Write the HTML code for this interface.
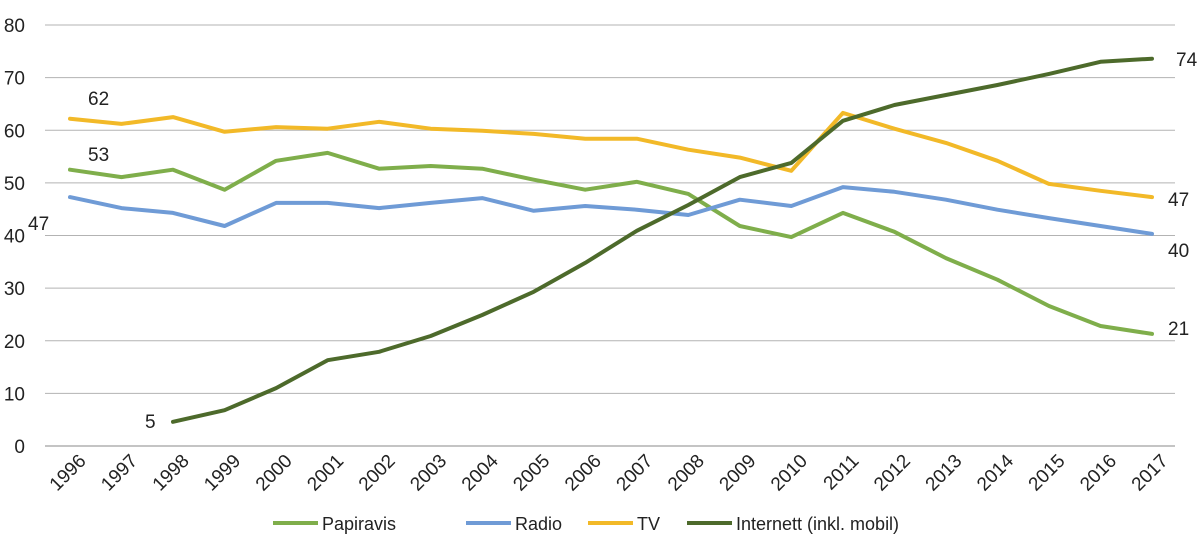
<!DOCTYPE html>
<html><head><meta charset="utf-8"><style>
html,body{margin:0;padding:0;background:#fff}
svg{display:block;font-family:"Liberation Sans",Arial,sans-serif}
</style></head><body>
<svg id="chart" width="1200" height="555" viewBox="0 0 1200 555">
<g id="grid"></g><g id="series"></g><g id="labels"></g><g id="legend"></g>
</svg>
<script>
const years=[1996,1997,1998,1999,2000,2001,2002,2003,2004,2005,2006,2007,2008,2009,2010,2011,2012,2013,2014,2015,2016,2017];
const papiravis=[52.5,51.1,52.5,48.7,54.2,55.7,52.7,53.2,52.7,50.6,48.7,50.2,47.9,41.8,39.7,44.3,40.7,35.7,31.6,26.6,22.8,21.3];
const radio=[47.3,45.2,44.3,41.8,46.2,46.2,45.2,46.2,47.1,44.7,45.6,44.9,43.9,46.8,45.6,49.2,48.3,46.8,44.9,43.3,41.8,40.3];
const tv=[62.2,61.2,62.5,59.7,60.6,60.3,61.6,60.3,59.9,59.3,58.4,58.4,56.3,54.8,52.3,63.3,60.3,57.6,54.2,49.8,48.5,47.3];
const internett=[null,null,4.6,6.8,11.0,16.3,17.9,20.9,24.9,29.3,34.8,40.9,45.8,51.1,53.8,61.8,64.8,66.7,68.6,70.7,73.0,73.6];
const yTicks=[0,10,20,30,40,50,60,70,80];
const NS="http://www.w3.org/2000/svg";
const x=i=>70+i*(1082/21);
const y=v=>446-v*(421/80);
function mk(t,a,p){const e=document.createElementNS(NS,t);for(const k in a)e.setAttribute(k,a[k]);p.appendChild(e);return e;}
const grid=document.getElementById('grid');
yTicks.forEach(t=>{
  const l=mk('line',{x1:45,x2:1175,y1:y(t),y2:y(t),stroke:t===0?'#888':'#b3b3b3','stroke-width':1},grid);
  
  
  const tx=mk('text',{x:25,y:y(t)+7,'text-anchor':'end','font-size':19,fill:'#222'},grid);tx.textContent=t;
  
  
});
years.forEach((yr,i)=>{
  const tx=mk('text',{x:x(i)+17,y:462,'text-anchor':'end','font-size':19,fill:'#222',transform:`rotate(-45 ${x(i)+17} 462)`},grid);
  tx.textContent=yr;
  
  
});
const ser=[['papiravis',papiravis,'#7fae4b','Papiravis'],['radio',radio,'#6f9bd6','Radio'],['tv',tv,'#f2b928','TV'],['internett',internett,'#4d6a2b','Internett (inkl. mobil)']];
const sg=document.getElementById('series');
ser.forEach(([n,d,c])=>{
  let pts=[];d.forEach((v,i)=>{if(v!=null)pts.push(x(i).toFixed(1)+','+y(v).toFixed(1));});
  const p=mk('polyline',{points:pts.join(' '),fill:'none',stroke:c,'stroke-width':4,'stroke-linejoin':'round','stroke-linecap':'round'},sg);
  
  
});
const lg=document.getElementById('labels');
function lab(t,px,py,anchor){const e=mk('text',{x:px,y:py,'font-size':19,fill:'#222','text-anchor':anchor||'start'},lg);e.textContent=t;
  
  }
lab(Math.round(tv[0]),88,105);
lab(Math.round(papiravis[0]),88,161);
lab(Math.round(radio[0]),28,230);
lab(Math.round(internett[2]),145,428);
lab(Math.round(internett[21]),1176,66);
lab(Math.round(tv[21]),1168,206);
lab(Math.round(radio[21]),1168,257);
lab(Math.round(papiravis[21]),1168,335);
const leg=document.getElementById('legend');
const lx=[273,466,588,687];
ser.forEach(([n,d,c,name],i)=>{
  const g=mk('g',{},leg);
  
  
  mk('line',{x1:lx[i],x2:lx[i]+45,y1:523,y2:523,stroke:c,'stroke-width':4},g);
  const t=mk('text',{x:lx[i]+49,y:530,'font-size':18,fill:'#222'},g);t.textContent=name;
});
</script>
</body></html>
